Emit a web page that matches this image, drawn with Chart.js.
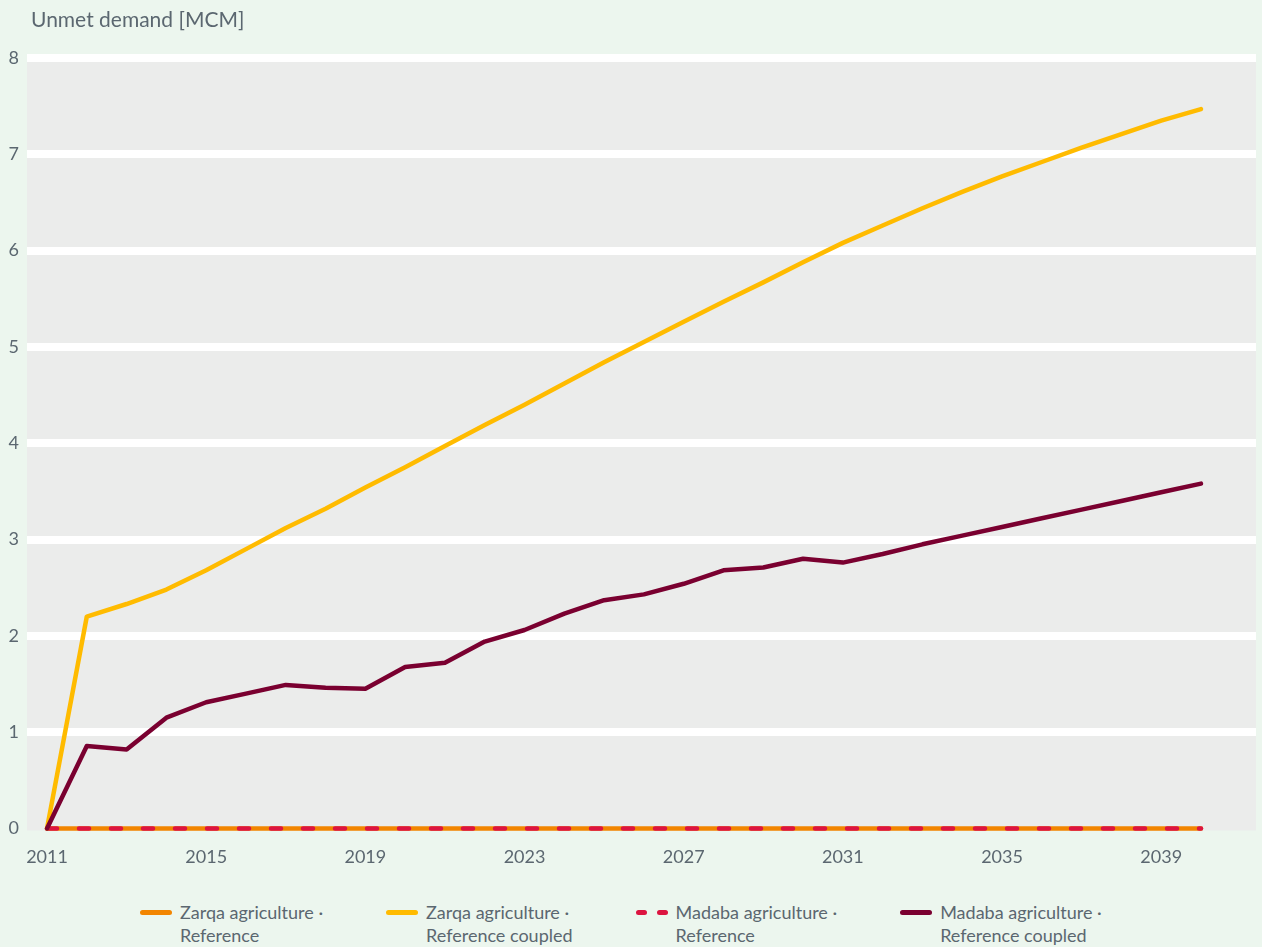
<!DOCTYPE html>
<html>
<head>
<meta charset="utf-8">
<script src="https://cdn.jsdelivr.net/npm/chart.js@4.4.1/dist/chart.umd.min.js"></script>
<style>
  html, body { margin: 0; padding: 0; background: #ecf6ee; }
  body { width: 1262px; height: 947px; overflow: hidden; font-family: Lato, "Open Sans", sans-serif; }
  #wrap { position: relative; width: 1262px; height: 886px; }
  #legend { display: flex; justify-content: flex-start; gap: 63px; padding-top: 15px; padding-left: 140px; color: #5b6770; font-size: 18px; line-height: 23px; }
  .item { display: flex; align-items: flex-start; }
  .swatch { width: 32px; height: 23px; margin-right: 8px; position: relative; flex: none; }
  .swatch span { position: absolute; top: 9px; height: 5px; border-radius: 3px; }
</style>
</head>
<body>
<div id="wrap"><canvas id="chart"></canvas></div>
<div id="legend"></div>
<script>
// years on the x axis
const years = [2011, 2012, 2013, 2014, 2015, 2016, 2017, 2018, 2019, 2020,
               2021, 2022, 2023, 2024, 2025, 2026, 2027, 2028, 2029, 2030,
               2031, 2032, 2033, 2034, 2035, 2036, 2037, 2038, 2039, 2040];
const yearTicks = [2011, 2015, 2019, 2023, 2027, 2031, 2035, 2039];
const valueTicks = [0, 1, 2, 3, 4, 5, 6, 7, 8];

// unmet demand [MCM]
const zarqaReference = years.map(() => 0);
const zarqaCoupled = [0, 2.20, 2.33, 2.48, 2.68, 2.90, 3.12, 3.32, 3.54, 3.75,
                      3.97, 4.19, 4.40, 4.62, 4.84, 5.05, 5.26, 5.47, 5.67, 5.88,
                      6.08, 6.26, 6.44, 6.61, 6.77, 6.92, 7.07, 7.21, 7.35, 7.47];
const madabaReference = years.map(() => 0);
const madabaCoupled = [0, 0.855, 0.82, 1.15, 1.31, 1.40, 1.49, 1.46, 1.45, 1.675,
                       1.72, 1.94, 2.06, 2.23, 2.37, 2.43, 2.54, 2.68, 2.71, 2.80,
                       2.76, 2.85, 2.95, 3.04, 3.13, 3.22, 3.31, 3.40, 3.49, 3.58];

const textColor = "#5b6770";
const fontFamily = "Lato, 'Open Sans', sans-serif";

const series = [
    { label: ["Zarqa agriculture ·", "Reference"], data: zarqaReference, color: "#f28500", dash: [], order: 4 },
    { label: ["Zarqa agriculture ·", "Reference coupled"], data: zarqaCoupled, color: "#ffbb00", dash: [], order: 2 },
    { label: ["Madaba agriculture ·", "Reference"], data: madabaReference, color: "#dc1440", dash: [10, 22], order: 3 },
    { label: ["Madaba agriculture ·", "Reference coupled"], data: madabaCoupled, color: "#7a0030", dash: [], order: 1 },
];

const plotBackground = {
    id: "plotBackground",
    beforeDraw(chart) {
        const { ctx, chartArea: a } = chart;
        ctx.save();
        ctx.fillStyle = "#ebeceb";
        ctx.fillRect(a.left, a.top - 4, a.right - a.left, a.bottom - a.top + 6);
        ctx.restore();
    },
    afterDraw(chart) {
        const ctx = chart.ctx;
        ctx.save();
        ctx.fillStyle = textColor;
        ctx.font = "21px " + fontFamily;
        ctx.textBaseline = "alphabetic";
        ctx.fillText("Unmet demand [MCM]", 31, 27);
        ctx.restore();
    }
};

new Chart(document.getElementById("chart"), {
    type: "line",
    data: {
        datasets: series.map(s => ({
            label: s.label.join(" "),
            data: s.data.map((v, i) => ({ x: years[i], y: v })),
            borderColor: s.color,
            backgroundColor: s.color,
            borderWidth: 4.5,
            borderDash: s.dash,
            borderCapStyle: "round",
            borderJoinStyle: "round",
            pointRadius: 0,
            tension: 0,
            clip: false,
            order: s.order,
        }))
    },
    options: {
        responsive: true,
        maintainAspectRatio: false,
        animation: false,
        layout: { padding: { top: 58, right: 6, bottom: 0, left: 0 } },
        plugins: { legend: { display: false }, tooltip: { enabled: false } },
        scales: {
            x: {
                type: "linear",
                min: 2010.497,
                max: 2041.382,
                afterBuildTicks: (s) => { s.ticks = yearTicks.map(v => ({ value: v })); },
                grid: { display: false, drawTicks: false },
                border: { display: false },
                ticks: { padding: 18, color: textColor, font: { family: fontFamily, size: 18 }, callback: v => String(v), maxRotation: 0, autoSkip: false },
            },
            y: {
                min: 0,
                max: 8,
                afterBuildTicks: (s) => { s.ticks = valueTicks.map(v => ({ value: v })); },
                afterFit: (s) => { s.width = 27; },
                grid: { color: c => (c.tick && c.tick.value === 0 ? "rgba(0,0,0,0)" : "#ffffff"), lineWidth: 8, drawTicks: false },
                border: { display: false },
                ticks: { padding: 8, color: textColor, font: { family: fontFamily, size: 18 } },
            }
        }
    },
    plugins: [plotBackground]
});

// legend below the canvas, two-line labels
const legend = document.getElementById("legend");
series.forEach(s => {
    const item = document.createElement("div");
    item.className = "item";
    const sw = document.createElement("div");
    sw.className = "swatch";
    const parts = s.dash.length ? [[0, 11], [21, 11]] : [[0, 32]];
    parts.forEach(([left, width]) => {
        const d = document.createElement("span");
        d.style.left = left + "px";
        d.style.width = width + "px";
        d.style.background = s.color;
        sw.appendChild(d);
    });
    const txt = document.createElement("div");
    txt.innerHTML = s.label.join("<br>");
    item.appendChild(sw);
    item.appendChild(txt);
    legend.appendChild(item);
});
</script>
</body>
</html>
